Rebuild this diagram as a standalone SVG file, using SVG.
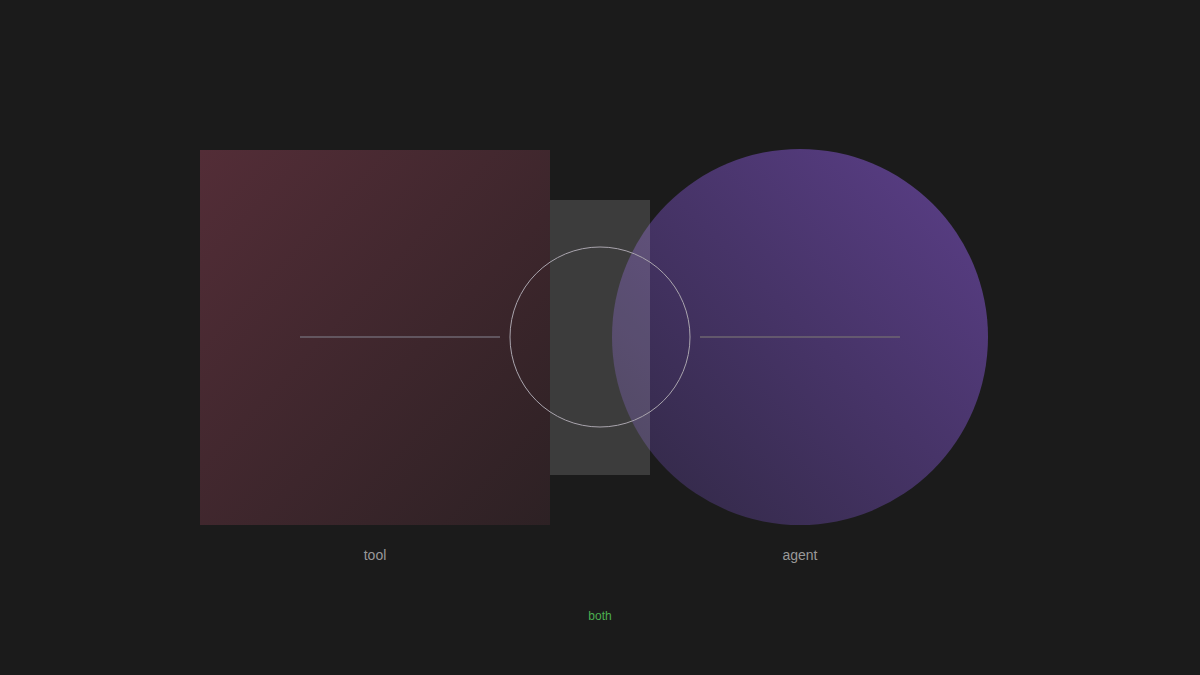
<svg xmlns="http://www.w3.org/2000/svg" width="1200" height="675" viewBox="0 0 1200 675">
<defs>
<linearGradient id="gTool" x1="0" y1="0" x2="1" y2="1">
<stop offset="0" stop-color="#532d37"/>
<stop offset="1" stop-color="#2d2124"/>
</linearGradient>
<linearGradient id="gAgent" x1="1" y1="0" x2="0" y2="1">
<stop offset="0" stop-color="#5c3f8a"/>
<stop offset="1" stop-color="#302843"/>
</linearGradient>
<style>
.lbl{font-family:"Liberation Sans",Arial,sans-serif;font-size:14px;fill:#999999;text-anchor:middle}
.both{font-family:"Liberation Sans",Arial,sans-serif;font-size:12px;fill:#4caf50;text-anchor:middle}
.axis{stroke:#6e6670;stroke-width:1.5}
</style>
</defs>
<rect width="1200" height="675" fill="#1b1b1b"/>
<g id="tool">
<rect x="200" y="150" width="350" height="375" fill="url(#gTool)"/>
<text class="lbl" x="375" y="560">tool</text>
</g>
<g id="agent">
<circle cx="800" cy="337" r="188" fill="url(#gAgent)"/>
<text class="lbl" x="800" y="560">agent</text>
</g>
<g id="overlap">
<rect x="550" y="200" width="100" height="275" fill="#ffffff" fill-opacity="0.15"/>
</g>
<g id="both">
<circle cx="600" cy="337" r="90" fill="none" stroke="#a9a4ad" stroke-width="1"/>
<text class="both" x="600" y="620">both</text>
</g>
<g id="connectors">
<line class="axis" x1="300" y1="337" x2="500" y2="337"/>
<line class="axis" x1="700" y1="337" x2="900" y2="337"/>
</g>
</svg>
